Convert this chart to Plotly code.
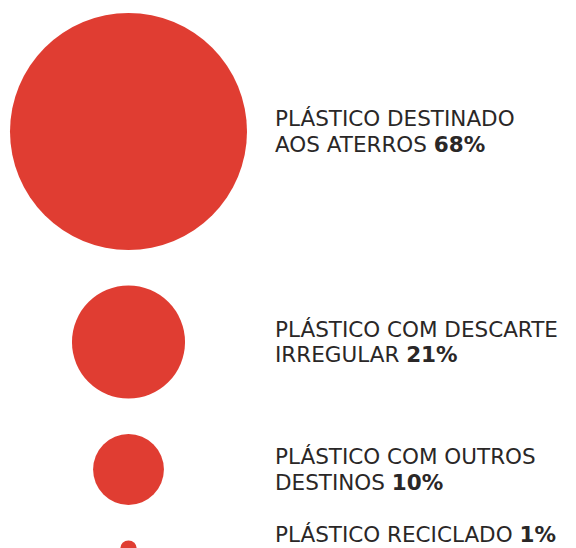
import plotly.graph_objects as go

labels = [["PLÁSTICO DESTINADO", "AOS ATERROS"],
          ["PLÁSTICO COM DESCARTE", "IRREGULAR"],
          ["PLÁSTICO COM OUTROS", "DESTINOS"],
          ["PLÁSTICO RECICLADO"]]
values = [68, 21, 10, 1]

W, H = 576, 548
OFF = 8  # page body margin
RED = "#E03D32"
TXT = "#2A2727"
FONT = "DejaVu Sans"
FS = 21.5

R_MAX = 118.5
vmax = max(values)
radii = [R_MAX * (v / vmax) ** 0.63 for v in values]
gap = 35.5
top = 13
cx = 128.5
ys = []
for i, r in enumerate(radii):
    if i == 0:
        ys.append(top + r)
    else:
        ys.append(ys[-1] + radii[i - 1] + gap + r)

fig = go.Figure()
fig.add_trace(go.Scatter(
    x=[cx] * len(values), y=ys, mode="markers",
    marker=dict(size=[2 * r for r in radii], color=RED, line=dict(width=0), opacity=1),
    hoverinfo="skip", cliponaxis=False))

lh = 25.5
for lab, v, yc in zip(labels, values, ys):
    n = 2
    for j, line in enumerate(lab):
        txt = line
        if j == len(lab) - 1:
            txt += f" <b>{v}%</b>"
        yy = yc + (j - (n - 1) / 2) * lh - (1.5 if len(lab) == 1 else 0)
        fig.add_annotation(x=274, y=yy, xref="x", yref="y", text=txt, showarrow=False,
                           xanchor="left", yanchor="middle", borderpad=0,
                           font=dict(family=FONT, size=FS, color=TXT))

fig.update_layout(width=W, height=H, margin=dict(l=0, r=0, t=0, b=0),
                  paper_bgcolor="white", plot_bgcolor="white", showlegend=False,
                  xaxis=dict(range=[OFF, W + OFF], visible=False, fixedrange=True),
                  yaxis=dict(range=[H + OFF, OFF], visible=False, fixedrange=True))
fig.write_html("out.html")
